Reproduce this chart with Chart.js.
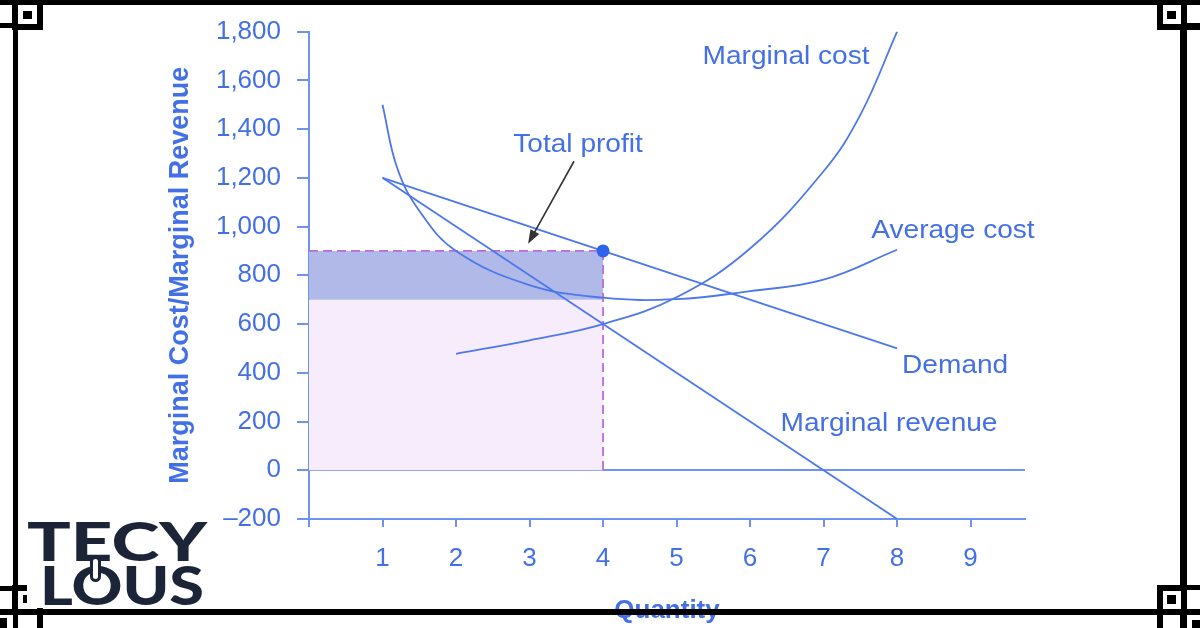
<!DOCTYPE html>
<html>
<head>
<meta charset="utf-8">
<script src="https://cdn.jsdelivr.net/npm/chart.js@4.4.1/dist/chart.umd.min.js"></script>
<style>
html,body{margin:0;padding:0;background:#fff;}
#wrap{position:relative;width:1200px;height:628px;overflow:hidden;background:#fff;}
#chart{position:absolute;left:0;top:0;}
.blk{position:absolute;background:#000;}
.box{position:absolute;border:6px solid #000;background:#fff;box-sizing:border-box;}
#logo{position:absolute;left:27px;top:515px;width:181px;height:93px;background:#fff;}
.logotxt{position:absolute;font-family:Lato,"Open Sans",sans-serif;font-weight:900;font-size:54px;line-height:54px;color:#1c2438;white-space:nowrap;transform-origin:0 0;}
#keyhole{position:absolute;left:63px;top:41px;width:11px;height:26px;border:3px solid #1c2438;background:#fff;border-radius:6px;box-sizing:border-box;}
</style>
</head>
<body>
<div id="wrap">
  <canvas id="chart" width="1200" height="628"></canvas>

  <!-- cadre noir -->
  <div class="blk" style="left:0;top:0;width:1200px;height:5px"></div>
  <div class="blk" style="left:0;top:609px;width:1200px;height:6px"></div>
  <div class="blk" style="left:13px;top:0;width:5px;height:628px"></div>
  <div class="blk" style="left:1180px;top:0;width:7px;height:628px"></div>

  <div class="box" style="left:12px;top:-1px;width:31px;height:31px"></div>
  <div class="blk" style="left:23px;top:11px;width:9px;height:8px"></div>
  <div class="blk" style="left:0;top:23px;width:13px;height:5px"></div>

  <div class="box" style="left:1157px;top:-1px;width:30px;height:31px"></div>
  <div class="blk" style="left:1167px;top:11px;width:9px;height:8px"></div>
  <div class="blk" style="left:1187px;top:23px;width:13px;height:7px"></div>

  <div class="box" style="left:1157px;top:585px;width:30px;height:30px"></div>
  <div class="blk" style="left:1167px;top:595px;width:9px;height:9px"></div>
  <div class="blk" style="left:1187px;top:585px;width:13px;height:5px"></div>
  <div class="blk" style="left:1157px;top:615px;width:6px;height:13px"></div>
  <div class="blk" style="left:1192px;top:620px;width:8px;height:8px"></div>

  <div class="box" style="left:12px;top:585px;width:31px;height:30px"></div>
  <div class="blk" style="left:23px;top:595px;width:9px;height:8px"></div>
  <div class="blk" style="left:0;top:586px;width:13px;height:5px"></div>
  <div class="blk" style="left:37px;top:615px;width:6px;height:13px"></div>
  <div class="blk" style="left:0;top:618px;width:7px;height:10px"></div>

  <div id="logo">
    <div class="logotxt" id="l1" style="left:0;top:-1px">TECY</div>
    <div class="logotxt" id="l2" style="left:13px;top:43px">LOUS</div>
    <div id="keyhole"></div>
  </div>
</div>

<script>
// courbes (quantite -> valeur)
var acQty  = [1, 1.2, 1.5, 2, 3, 4, 5, 6, 7, 8];
var acCost = [1500, 1240, 1065, 900, 760, 708, 702, 735, 782, 905];

var mcQty  = [2, 3, 4, 5, 6, 7, 7.5, 8];
var mcCost = [478, 533, 600, 710, 910, 1227, 1458, 1800];

var demandQty   = [1, 8];
var demandPrice = [1200, 500];

var mrQty   = [1, 8];
var mrValue = [1200, -200];

var profitQty   = 4;
var profitPrice = 900;
var profitCost  = 700;

var yMin = -200, yMax = 1800, yStep = 200;
var xMin = 0, xMax = 9.74, xStep = 1;

function pts(xs, ys){
  return xs.map(function(x, i){ return {x: x, y: ys[i]}; });
}

var textColor = '#4370e6';
var lineColor = '#4d78ec';
var axisColor = '#6f93f0';
var baseFont = '"Liberation Sans", Arial, sans-serif';

// textes poses sur le graphique (position en coordonnees des axes)
var notes = [
  {text: 'Marginal cost',    q: 6.49, v: 1667},
  {text: 'Average cost',     q: 8.76, v: 953},
  {text: 'Demand',           q: 8.79, v: 401},
  {text: 'Marginal revenue', q: 7.89, v: 160},
  {text: 'Total profit',     q: 3.66, v: 1305}
];
var arrow = {from: {q: 3.605, v: 1268}, to: {q: 2.98, v: 929}};

var notesPlugin = {
  id: 'notes',
  afterDatasetsDraw: function(chart){
    var c = chart.ctx, sx = chart.scales.x, sy = chart.scales.y;
    c.save();
    c.fillStyle = textColor;
    c.font = '26px ' + baseFont;
    c.textAlign = 'center';
    c.textBaseline = 'alphabetic';
    notes.forEach(function(n){
      c.save();
      c.translate(sx.getPixelForValue(n.q), sy.getPixelForValue(n.v));
      c.scale(1.08, 1);
      c.fillText(n.text, 0, 0);
      c.restore();
    });
    // fleche "Total profit"
    var x1 = sx.getPixelForValue(arrow.from.q), y1 = sy.getPixelForValue(arrow.from.v);
    var x2 = sx.getPixelForValue(arrow.to.q),   y2 = sy.getPixelForValue(arrow.to.v);
    var a = Math.atan2(y2 - y1, x2 - x1);
    c.strokeStyle = '#333';
    c.fillStyle = '#333';
    c.lineWidth = 1.6;
    c.beginPath();
    c.moveTo(x1, y1);
    c.lineTo(x2 - 10 * Math.cos(a), y2 - 10 * Math.sin(a));
    c.stroke();
    c.beginPath();
    c.moveTo(x2, y2);
    c.lineTo(x2 - 14 * Math.cos(a) + 5 * Math.sin(a), y2 - 14 * Math.sin(a) - 5 * Math.cos(a));
    c.lineTo(x2 - 14 * Math.cos(a) - 5 * Math.sin(a), y2 - 14 * Math.sin(a) + 5 * Math.cos(a));
    c.closePath();
    c.fill();
    c.restore();
  }
};

function curve(data, order, tension){
  return {
    data: data, showLine: true, fill: false,
    borderColor: lineColor, borderWidth: 1.8,
    pointRadius: 0, tension: tension, order: order
  };
}

var datasets = [
  { // zone claire 0 -> cout moyen
    data: pts([0, profitQty], [profitCost, profitCost]), showLine: true,
    borderWidth: 0, pointRadius: 0, fill: 'origin',
    backgroundColor: '#f6ecfc', order: 20
  },
  { // profit total
    data: pts([0, profitQty], [profitPrice, profitPrice]), showLine: true,
    borderWidth: 0, pointRadius: 0, fill: {value: profitCost},
    backgroundColor: '#b1b9e9', order: 19
  },
  { // pointilles
    data: pts([0, profitQty, profitQty], [profitPrice, profitPrice, 0]), showLine: true,
    borderColor: '#bd6ae0', borderWidth: 1.8, borderDash: [9, 5],
    pointRadius: 0, fill: false, order: 15
  },
  curve(pts(acQty, acCost), 5, 0.4),
  curve(pts(mcQty, mcCost), 4, 0.4),
  curve(pts(demandQty, demandPrice), 3, 0),
  curve(pts(mrQty, mrValue), 2, 0),
  {
    data: [{x: profitQty, y: profitPrice}], showLine: false,
    pointRadius: 6.5, pointBackgroundColor: '#2d64ee', pointBorderWidth: 0, order: 0
  }
];

new Chart(document.getElementById('chart'), {
  type: 'scatter',
  data: {datasets: datasets},
  options: {
    responsive: false,
    animation: false,
    events: [],
    layout: {padding: {left: 160, right: 175, top: 30, bottom: 0}},
    plugins: {legend: {display: false}, tooltip: {enabled: false}},
    scales: {
      x: {
        type: 'linear', min: xMin, max: xMax,
        afterFit: function(s){ s.height = 109; },
        border: {color: axisColor, width: 2},
        grid: {drawOnChartArea: false, tickLength: 8, color: axisColor, lineWidth: 2},
        ticks: {
          stepSize: xStep, includeBounds: false, padding: 16, maxRotation: 0,
          color: textColor, font: {family: baseFont, size: 26},
          callback: function(v){ return v === 0 ? '' : v; }
        },
        title: {
          display: true, text: 'Quantity', color: textColor,
          font: {family: baseFont, size: 26, weight: 'bold'}, padding: {top: 0, bottom: 2}
        }
      },
      y: {
        type: 'linear', min: yMin, max: yMax,
        afterFit: function(s){ s.width = 149; },
        border: {color: axisColor, width: 2},
        grid: {
          drawOnChartArea: true, tickLength: 12, lineWidth: 2,
          color: function(ctx){ return ctx.tick && ctx.tick.value === 0 ? axisColor : 'rgba(0,0,0,0)'; },
          tickColor: axisColor
        },
        ticks: {
          stepSize: yStep, padding: 16,
          color: textColor, font: {family: baseFont, size: 26},
          callback: function(v){ return v < 0 ? '\u2013' + Math.abs(v) : v.toLocaleString('en-US'); }
        },
        title: {
          display: true, text: 'Marginal Cost/Marginal Revenue', color: textColor,
          font: {family: baseFont, size: 27, weight: 'bold'}, padding: {top: 4, bottom: 0}
        }
      }
    }
  },
  plugins: [notesPlugin]
});

// logo : etirement horizontal pour retrouver la largeur du logo
function fitText(el, target){
  var w = el.getBoundingClientRect().width;
  el.style.transform = 'scaleX(' + (target / w) + ')';
}
fitText(document.getElementById('l1'), 180);
fitText(document.getElementById('l2'), 164);
</script>
</body>
</html>
